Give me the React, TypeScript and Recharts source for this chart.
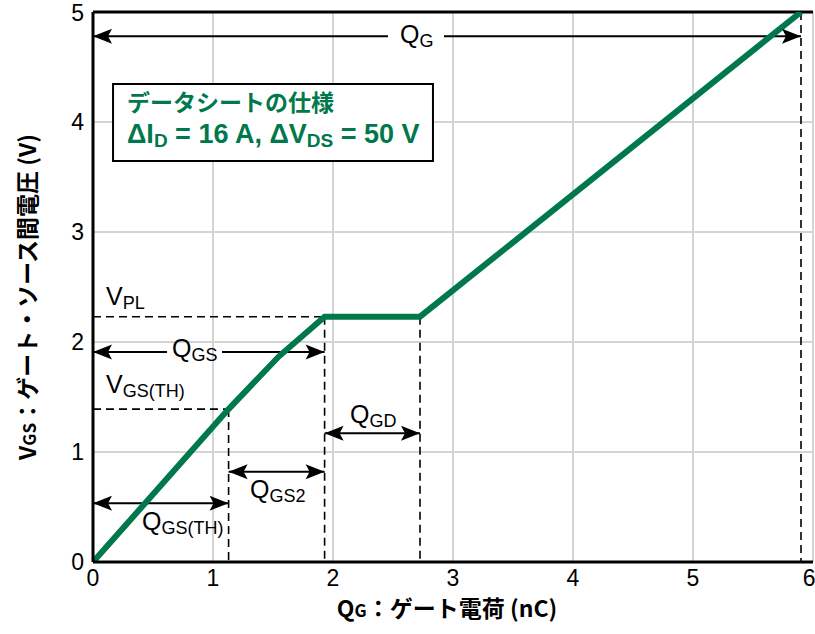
import React from 'react';
import {
  LineChart,
  Line,
  XAxis,
  YAxis,
  CartesianGrid,
  ReferenceLine,
  ReferenceDot,
  ReferenceArea,
} from 'recharts';

// Gate charge curve (nC -> V)
const chargeNC = [0, 1.13, 1.55, 1.93, 2.725, 5.9];
const gateVolts = [0, 1.39, 1.87, 2.23, 2.23, 5.0];

const xTicks = [0, 1, 2, 3, 4, 5, 6];
const yTicks = [0, 1, 2, 3, 4, 5];

// key points
const qTh = 1.13;
const vTh = 1.39;
const qPlStart = 1.93;
const qPlEnd = 2.725;
const vPl = 2.23;
const qTotal = 5.9;
const vMax = 5;

// double arrows: from, to, y, optional gap for a label
const arrowFrom = [0, 0, qPlStart, qTh, 0];
const arrowTo = [qTotal, qPlStart, qPlEnd, qPlStart, qTh];
const arrowY = [4.78, 1.91, 1.17, 0.82, 0.535];
const arrowGapFrom = [2.458, 0.617, null, null, null];
const arrowGapTo = [2.925, 1.075, null, null, null];

// text annotations: main letter, subscript, x, y(baseline)
const labelMain = ['Q', 'Q', 'V', 'V', 'Q', 'Q', 'Q'];
const labelSub = ['G', 'GS', 'PL', 'GS(TH)', 'GD', 'GS2', 'GS(TH)'];
const labelX = [2.558, 0.658, 0.108, 0.108, 2.142, 1.308, 0.408];
const labelY = [4.718, 1.864, 2.336, 1.536, 1.264, 0.582, 0.291];

// spec box
const boxX = [0.167, 2.833];
const boxY = [3.645, 4.345];
const boxTitle = 'データシートの仕様';
const boxTextX = 0.283;
const boxLineY = [4.1, 3.809];

const GREEN = '#00784b';
const data = chargeNC.map((q, i) => ({ q, v: gateVolts[i] }));

const ArrowHead = ({ cx, cy, dir }: any) => {
  const L = 19;
  const H = 7.5;
  const notch = 4;
  const s = dir === 'left' ? 1 : -1;
  const d = `M${cx},${cy} L${cx + s * L},${cy - H} L${cx + s * (L - notch)},${cy} L${cx + s * L},${cy + H} Z`;
  return <path d={d} fill="#000" />;
};

const AnnoText = ({ cx, cy, main, sub }: any) => (
  <text
    x={cx}
    y={cy}
    fontFamily="'Liberation Sans', Arial, sans-serif"
    fontSize={25}
    fill="#000"
  >
    {main}
    <tspan fontSize={18} dy={4}>
      {sub}
    </tspan>
  </text>
);

const BoxLine1 = ({ cx, cy }: any) => (
  <text
    x={cx}
    y={cy}
    fontFamily="'Noto Sans CJK JP', sans-serif"
    fontWeight="bold"
    fontSize={23}
    fill={GREEN}
  >
    {boxTitle}
  </text>
);

const BoxLine2 = ({ cx, cy }: any) => (
  <text
    x={cx}
    y={cy}
    fontFamily="'Liberation Sans Narrow', 'Liberation Sans', Arial, sans-serif"
    fontWeight="bold"
    fontSize={27}
    fill={GREEN}
  >
    ΔI
    <tspan fontSize={19} dy={4}>D</tspan>
    <tspan dy={-4}> = 16 A, ΔV</tspan>
    <tspan fontSize={19} dy={4}>DS</tspan>
    <tspan dy={-4}> = 50 V</tspan>
  </text>
);

const TITLE_FONT = "'Liberation Sans Narrow', 'Noto Sans CJK JP', sans-serif";

const YTitle = (props: any) => {
  const vb = props.viewBox || { x: 0, y: 12, width: 93, height: 550 };
  const cx = 36;
  const cy = vb.y + vb.height / 2 + 10;
  return (
    <text
      transform={`translate(${cx},${cy}) rotate(-90)`}
      textAnchor="middle"
      fontFamily={TITLE_FONT}
      fontWeight="bold"
      fontSize={23}
      fill="#000"
    >
      V<tspan fontSize={17}>GS</tspan>
      <tspan fontFamily="'Noto Sans CJK JP', sans-serif">：ゲート・ソース間電圧</tspan>
      <tspan> (V)</tspan>
    </text>
  );
};

const XTitle = (props: any) => {
  const vb = props.viewBox || { x: 93, y: 562, width: 720, height: 72 };
  const cx = vb.x + vb.width / 2 - 6;
  const cy = 617;
  return (
    <text
      x={cx}
      y={cy}
      textAnchor="middle"
      fontFamily={TITLE_FONT}
      fontWeight="bold"
      fontSize={23}
      fill="#000"
    >
      Q<tspan fontSize={17}>G</tspan>
      <tspan fontFamily="'Noto Sans CJK JP', sans-serif">：ゲート電荷</tspan>
      <tspan> (nC)</tspan>
    </text>
  );
};

const tickStyle = {
  fontFamily: "'Liberation Sans Narrow', 'Liberation Sans', Arial, sans-serif",
  fontSize: 23,
  fill: '#000',
};

export default function App() {
  const dash = '8 5';
  return (
    <div style={{ position: 'absolute', left: 0, top: 0, background: '#fff' }}>
      <LineChart
        width={815}
        height={634}
        data={data}
        margin={{ top: 12, right: 2, bottom: 0, left: 0 }}
      >
        <CartesianGrid stroke="#d4d4d4" strokeWidth={2} />
        <XAxis
          type="number"
          dataKey="q"
          domain={[0, 6]}
          ticks={xTicks}
          allowDataOverflow
          height={72}
          tickLine={false}
          tickSize={0}
          tickMargin={8}
          axisLine={{ stroke: '#000', strokeWidth: 3 }}
          tick={tickStyle}
          label={{ content: (p: any) => <XTitle {...p} /> }}
        />
        <YAxis
          type="number"
          domain={[0, 5]}
          ticks={yTicks}
          allowDataOverflow
          width={93}
          tickLine={false}
          tickSize={0}
          tickMargin={9}
          axisLine={{ stroke: '#000', strokeWidth: 3 }}
          tick={tickStyle}
          label={{ content: (p: any) => <YTitle {...p} /> }}
        />
        <ReferenceLine y={vMax} stroke="#000" strokeWidth={3} />

        {/* spec box */}
        <ReferenceArea
          x1={boxX[0]}
          x2={boxX[1]}
          y1={boxY[0]}
          y2={boxY[1]}
          fill="#fff"
          fillOpacity={1}
          stroke="#000"
          strokeWidth={2}
        />
        <ReferenceDot x={boxTextX} y={boxLineY[0]} shape={(p: any) => <BoxLine1 {...p} />} />
        <ReferenceDot x={boxTextX} y={boxLineY[1]} shape={(p: any) => <BoxLine2 {...p} />} />

        {/* dashed guides */}
        <ReferenceLine segment={[{ x: 0, y: vPl }, { x: qPlStart, y: vPl }]} stroke="#000" strokeWidth={1.6} strokeDasharray={dash} />
        <ReferenceLine segment={[{ x: 0, y: vTh }, { x: qTh, y: vTh }]} stroke="#000" strokeWidth={1.6} strokeDasharray={dash} />
        <ReferenceLine segment={[{ x: qTh, y: vTh }, { x: qTh, y: 0 }]} stroke="#000" strokeWidth={1.6} strokeDasharray={dash} />
        <ReferenceLine segment={[{ x: qPlStart, y: vPl }, { x: qPlStart, y: 0 }]} stroke="#000" strokeWidth={1.6} strokeDasharray={dash} />
        <ReferenceLine segment={[{ x: qPlEnd, y: vPl }, { x: qPlEnd, y: 0 }]} stroke="#000" strokeWidth={1.6} strokeDasharray={dash} />
        <ReferenceLine segment={[{ x: qTotal, y: vMax }, { x: qTotal, y: 0 }]} stroke="#000" strokeWidth={1.6} strokeDasharray={dash} />

        {/* double arrows */}
        {arrowY.map((y, i) => {
          const a = arrowFrom[i];
          const b = arrowTo[i];
          const g1 = arrowGapFrom[i];
          const g2 = arrowGapTo[i];
          const segs =
            g1 != null && g2 != null
              ? [
                  [a, g1],
                  [g2, b],
                ]
              : [[a, b]];
          return segs.map((s, j) => (
            <ReferenceLine
              key={`ar-${i}-${j}`}
              segment={[{ x: s[0], y }, { x: s[1], y }]}
              stroke="#000"
              strokeWidth={2}
            />
          ));
        })}
        {arrowY.map((y, i) => (
          <ReferenceDot
            key={`ahl-${i}`}
            x={arrowFrom[i]}
            y={y}
            shape={(p: any) => <ArrowHead cx={p.cx} cy={p.cy} dir="left" />}
          />
        ))}
        {arrowY.map((y, i) => (
          <ReferenceDot
            key={`ahr-${i}`}
            x={arrowTo[i]}
            y={y}
            shape={(p: any) => <ArrowHead cx={p.cx} cy={p.cy} dir="right" />}
          />
        ))}

        {/* text labels */}
        {labelMain.map((m, i) => (
          <ReferenceDot
            key={`lb-${i}`}
            x={labelX[i]}
            y={labelY[i]}
            shape={(p: any) => <AnnoText cx={p.cx} cy={p.cy} main={m} sub={labelSub[i]} />}
          />
        ))}

        <Line
          type="linear"
          dataKey="v"
          stroke={GREEN}
          strokeWidth={6}
          dot={false}
          isAnimationActive={false}
          strokeLinejoin="miter"
        />
      </LineChart>
    </div>
  );
}
